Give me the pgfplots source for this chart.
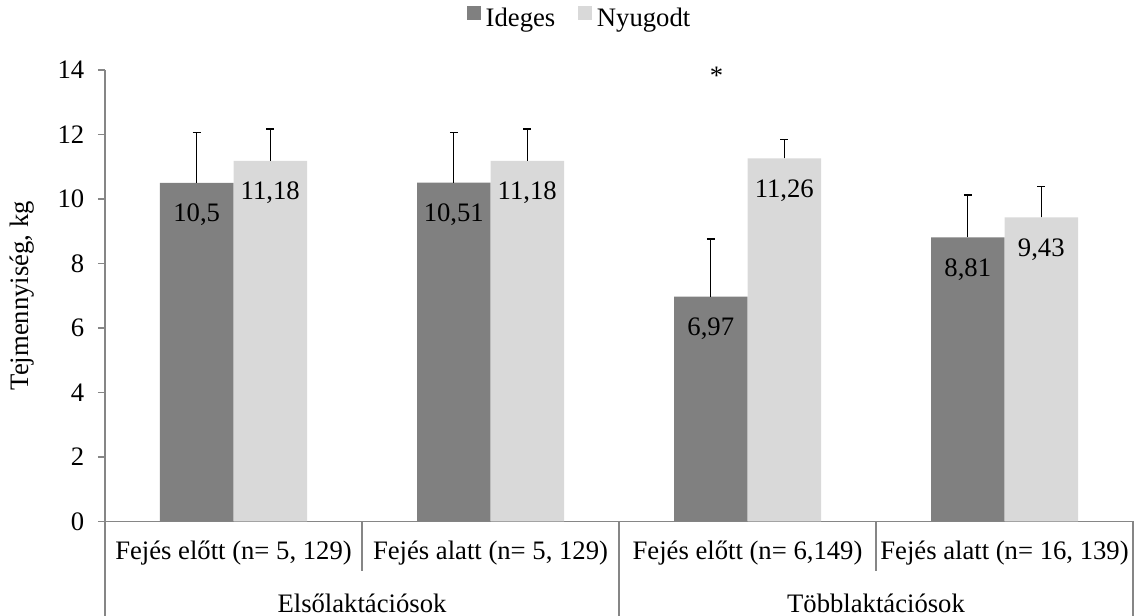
\documentclass[border=0pt]{standalone}
\usepackage{fontspec}
\setmainfont{Liberation Serif}
\usepackage{pgfplots}
\pgfplotsset{compat=1.18}
\definecolor{ideges}{RGB}{128,128,128}
\definecolor{nyugodt}{RGB}{217,217,217}
\definecolor{axisgray}{RGB}{134,134,134}

\begin{document}
\fontsize{20}{24}\selectfont
\begin{tikzpicture}
\useasboundingbox (-78.75pt,-70.875pt) rectangle (774.75pt,391.125pt);
\begin{axis}[
  scale only axis, width=771pt, height=338.625pt,
  at={(0pt,0pt)}, anchor=south west,
  xmin=-0.5, xmax=3.5, ymin=0, ymax=14,
  ybar=0pt, bar width=0.286,
  axis x line*=bottom, axis y line*=left,
  axis line style={draw=axisgray, line width=1pt, -},
  xtick=\empty,
  ytick={0,2,...,14},
  tick align=outside, major tick length=5.25pt,
  ytick style={draw=axisgray, line width=1pt},
  yticklabel style={xshift=-3.5pt},
  /pgf/number format/assume math mode=true,
  /pgf/number format/use comma,
  clip=false,
  ylabel={Tejmennyiség, kg},
  every axis y label/.style={at={(axis description cs:-0.0810,0.5)}, rotate=90, anchor=center},
  legend style={at={(0.4606,1.115)}, anchor=center, draw=none, fill=none,
    /tikz/every odd column/.style={column sep=3.75pt},
    /tikz/every even column/.style={column sep=17pt},
    nodes={inner sep=0pt}},
  legend columns=2,
  legend image code/.code={\fill[#1] (0pt,-0.75pt) rectangle (10.5pt,9.75pt);},
  nodes near coords,
  every node near coord/.append style={anchor=base, yshift=-29pt, black},
  error bars/y dir=plus, error bars/y explicit,
  error bars/error bar style={black, line width=1pt},
  error bars/error mark options={rotate=90, black, mark size=3pt, line width=1pt},
]
% Ideges
\addplot[fill=ideges, draw=none] coordinates {
  (0,10.5) +- (0,1.56)
  (1,10.51) +- (0,1.56)
  (2,6.97) +- (0,1.79)
  (3,8.81) +- (0,1.31)
};
% Nyugodt
\addplot[fill=nyugodt, draw=none] coordinates {
  (0,11.18) +- (0,0.99)
  (1,11.18) +- (0,0.99)
  (2,11.26) +- (0,0.59)
  (3,9.43) +- (0,0.95)
};
\legend{Ideges, Nyugodt}

\node at (axis cs:1.88,13.83) {*};

% multi-level category axis
\draw[axisgray, line width=1pt] (axis cs:-0.5,0) -- ++(0pt,-72pt);
\draw[axisgray, line width=1pt] (axis cs:1.5,0) -- ++(0pt,-72pt);
\draw[axisgray, line width=1pt] (axis cs:3.5,0) -- ++(0pt,-72pt);
\draw[axisgray, line width=1pt] (axis cs:0.5,0) -- ++(0pt,-37.1pt);
\draw[axisgray, line width=1pt] (axis cs:2.5,0) -- ++(0pt,-37.1pt);

\node at (axis cs:0,0) [yshift=-23.6pt] {Fejés előtt (n= 5, 129)};
\node at (axis cs:1,0) [yshift=-23.6pt] {Fejés alatt (n= 5, 129)};
\node at (axis cs:2,0) [yshift=-23.6pt] {Fejés előtt (n= 6,149)};
\node at (axis cs:3,0) [yshift=-23.6pt] {Fejés alatt (n= 16, 139)};
\node at (axis cs:0.5,0) [yshift=-61.1pt] {Elsőlaktációsok};
\node at (axis cs:2.5,0) [yshift=-61.1pt] {Többlaktációsok};
\end{axis}
\end{tikzpicture}
\end{document}
